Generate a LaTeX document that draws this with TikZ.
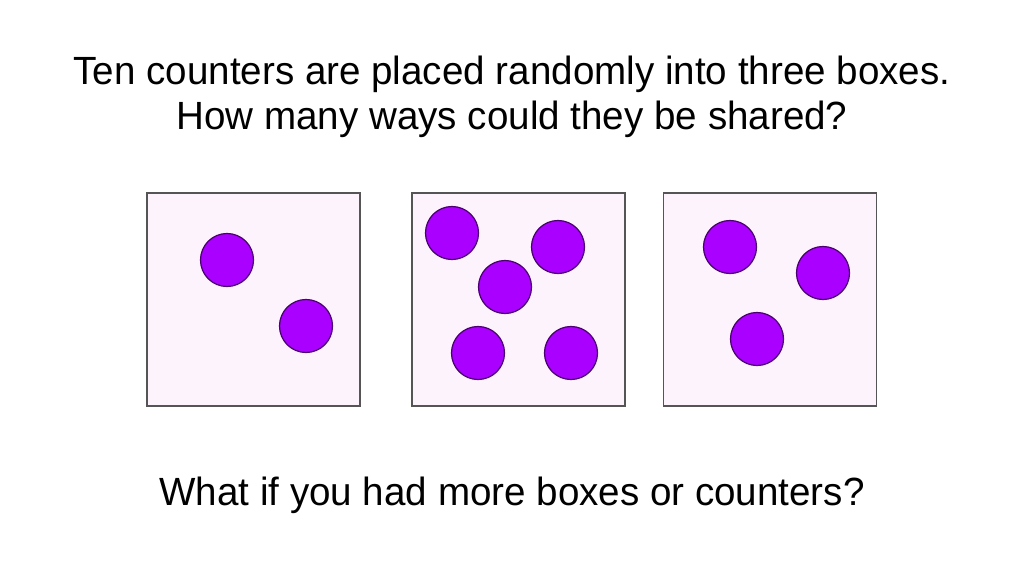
\documentclass[tikz,border=0pt]{standalone}
\usepackage{fontspec}
\setmainfont[FakeStretch=0.98]{Liberation Sans}
\usepackage{xcolor}
\usepackage{tikz}

\definecolor{boxfill}{HTML}{FDF3FC}
\definecolor{boxline}{HTML}{555555}
\definecolor{counterfill}{HTML}{AA00FF}
\definecolor{counterline}{HTML}{4A0070}

\begin{document}
\begin{tikzpicture}[
  x=0.02cm, y=-0.02cm,
  box/.style={draw=boxline,fill=boxfill,line width=0.9pt,minimum size=213*0.02cm,inner sep=0pt},
  counter/.style={circle,draw=counterline,fill=counterfill,line width=0.7pt,minimum size=53*0.02cm,inner sep=0pt},
  words/.style={font=\fontsize{22.4}{25}\selectfont,inner sep=0pt}
]
  \useasboundingbox[fill=white] (0,0) rectangle (1024,574);
  \node[words,anchor=base] (question) at (512,85) {Ten counters are placed randomly into three boxes.};
  \node[words,anchor=base] (question2) at (512,130) {How many ways could they be shared?};
  \node[box] (left) at (253.5,299.5) {};
  \node[box] (middle) at (518.5,299.5) {};
  \node[box] (right) at (770,299.5) {};
  \node[counter] (l1) at (227,260) {};
  \node[counter] (l2) at (306,326) {};
  \node[counter] (m1) at (452,233) {};
  \node[counter] (m2) at (558,247) {};
  \node[counter] (m3) at (505,287) {};
  \node[counter] (m4) at (478,353) {};
  \node[counter] (m5) at (571,353) {};
  \node[counter] (r1) at (730,247) {};
  \node[counter] (r2) at (823,273) {};
  \node[counter] (r3) at (757,339) {};
  \node[words,anchor=base] (more) at (512,505) {What if you had more boxes or counters?};
\end{tikzpicture}
\end{document}
